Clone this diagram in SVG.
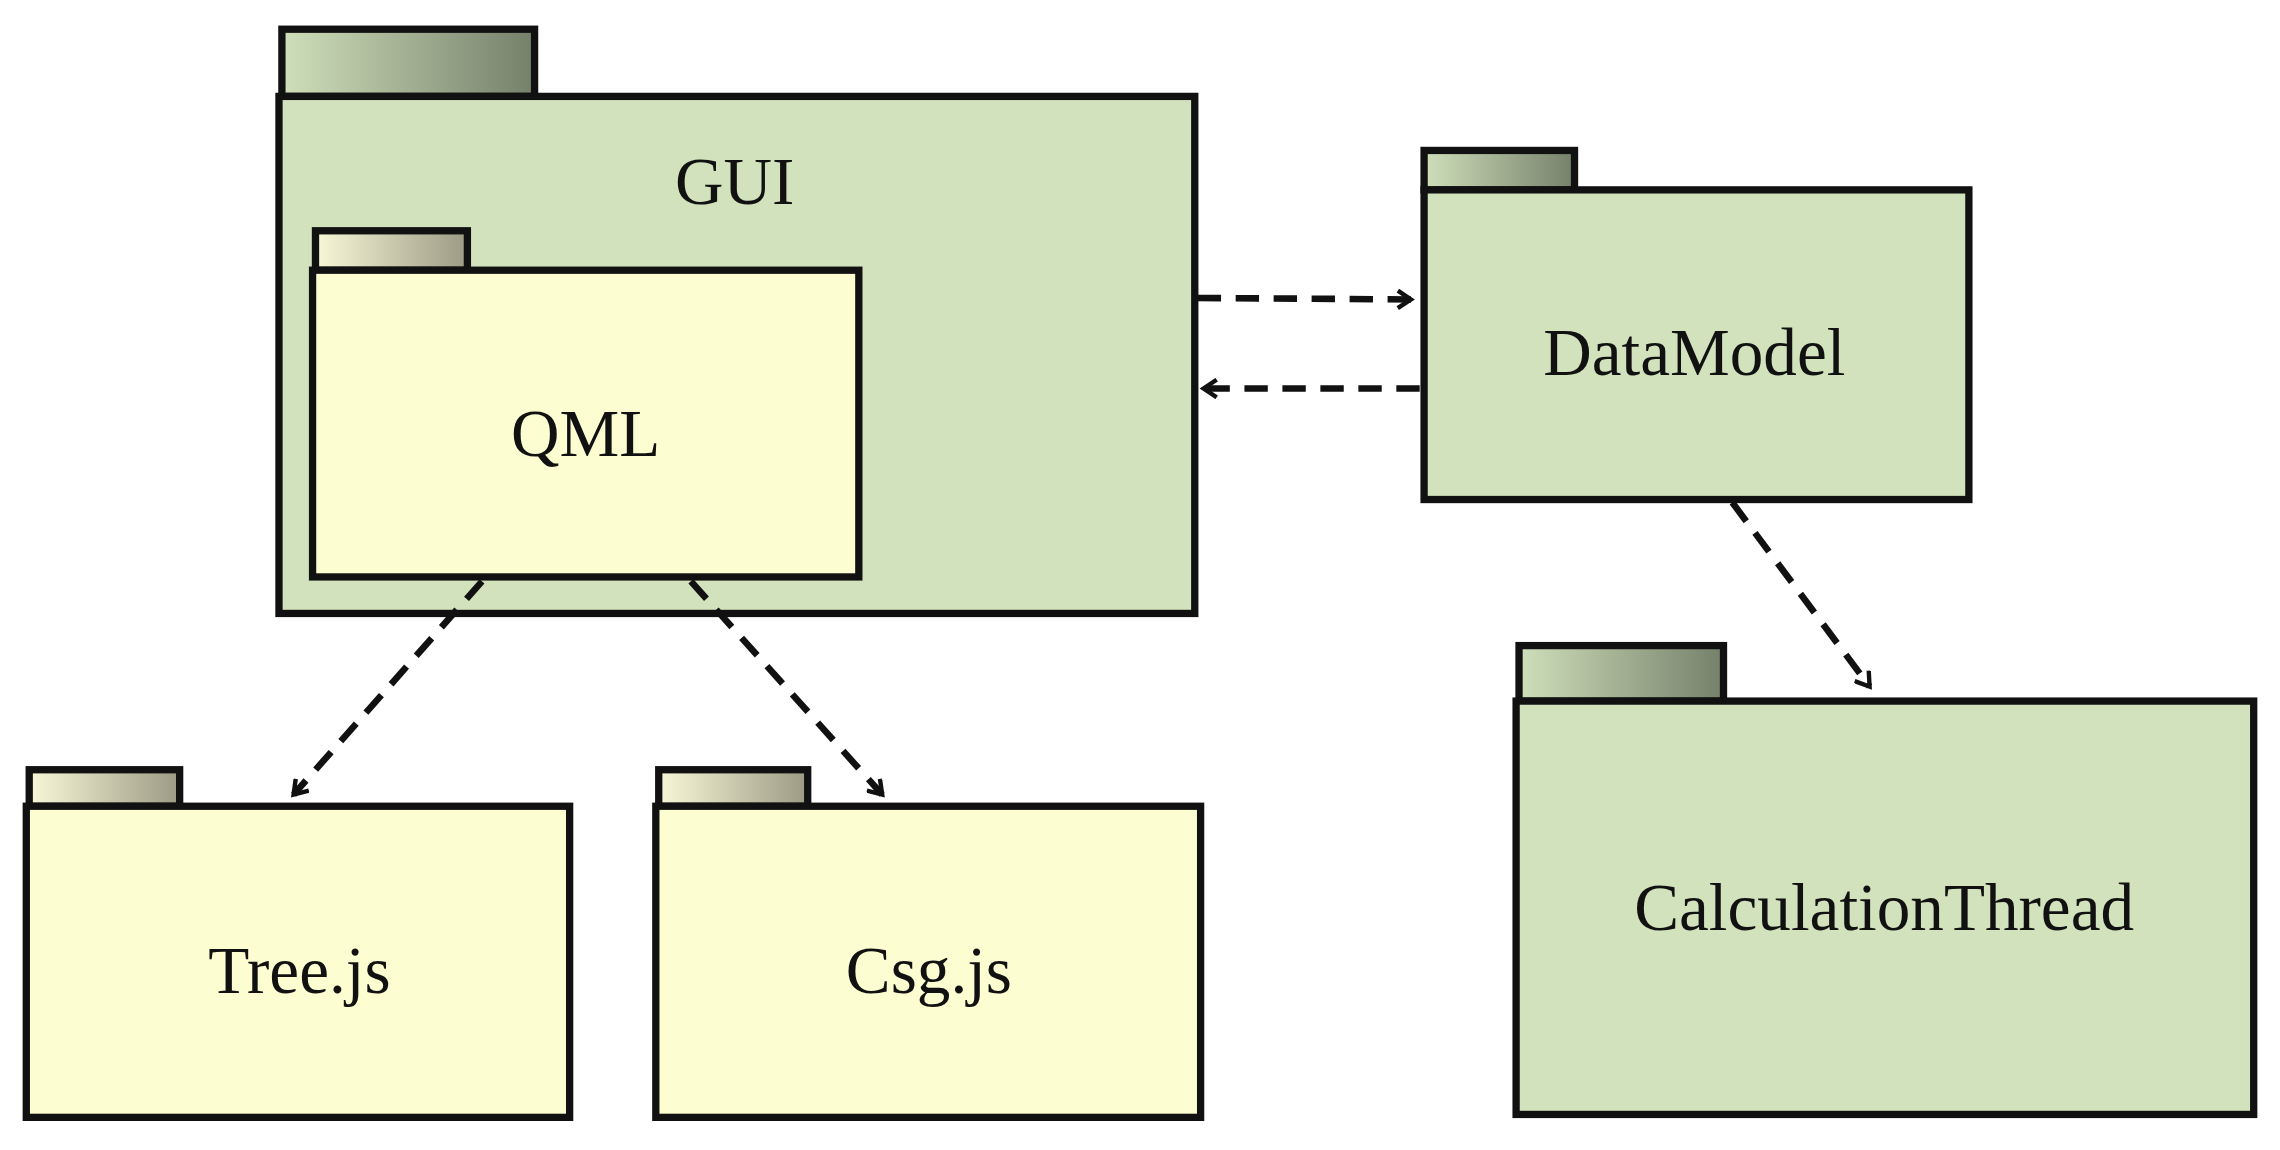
<svg xmlns="http://www.w3.org/2000/svg" width="2280" height="1150" viewBox="0 0 2280 1150">
<style>
.b{stroke:#111;stroke-width:5}
.g{fill:#d1e2bc}
.y{fill:#fdfdd2}
.t{font-family:"Liberation Serif","DejaVu Serif",serif;font-size:46px;fill:#111;text-anchor:middle}
.c{fill:none;stroke:#111;stroke-width:4.5;stroke-dasharray:16 10}
</style>
<defs>
<linearGradient id="tg" x1="0" x2="1" y1="0" y2="0"><stop offset="0" stop-color="#cfdfba"/><stop offset="1" stop-color="#75806a"/></linearGradient>
<linearGradient id="ty" x1="0" x2="1" y1="0" y2="0"><stop offset="0" stop-color="#f8f8d8"/><stop offset="1" stop-color="#9c9a84"/></linearGradient>
<marker id="a" markerWidth="14" markerHeight="14" refX="11" refY="7" orient="auto" markerUnits="userSpaceOnUse" viewBox="0 0 14 14"><path d="M2,1 L11,7 L2,13" fill="none" stroke="#111" stroke-width="3"/></marker>
</defs>
<rect width="2280" height="1150" fill="#fff"/>
<g transform="scale(1.4606)">
<g id="gui"><rect class="b" x="193" y="20" width="173" height="46" fill="url(#tg)"/><rect class="b g" x="191" y="66" width="627" height="354"/><text class="t" x="503" y="140">GUI</text></g>
<g id="qml"><rect class="b" x="216" y="158" width="104" height="27" fill="url(#ty)"/><rect class="b y" x="214" y="185" width="374" height="210"/><text class="t" x="401" y="312">QML</text></g>
<g id="datamodel"><rect class="b" x="975" y="103" width="103" height="27" fill="url(#tg)"/><rect class="b g" x="975" y="130" width="373" height="212"/><text class="t" x="1160" y="257">DataModel</text></g>
<g id="calc"><rect class="b" x="1040" y="442" width="140" height="38" fill="url(#tg)"/><rect class="b g" x="1038" y="480" width="505" height="283"/><text class="t" x="1290" y="637">CalculationThread</text></g>
<g id="tree"><rect class="b" x="20" y="527" width="103" height="25" fill="url(#ty)"/><rect class="b y" x="18" y="552" width="372" height="213"/><text class="t" x="205" y="680">Tree.js</text></g>
<g id="csg"><rect class="b" x="451" y="527" width="102" height="25" fill="url(#ty)"/><rect class="b y" x="449" y="552" width="373" height="213"/><text class="t" x="636" y="680">Csg.js</text></g>
<g id="connectors">
<path class="c" d="M820,204 L966,205" marker-end="url(#a)"/>
<path class="c" d="M972,266 L824,266" marker-end="url(#a)"/>
<path class="c" d="M1186,344 L1280,470" marker-end="url(#a)"/>
<path class="c" d="M330,398 L201,544" marker-end="url(#a)"/>
<path class="c" d="M473,398 L604,544" marker-end="url(#a)"/>
</g>
</g>
</svg>
